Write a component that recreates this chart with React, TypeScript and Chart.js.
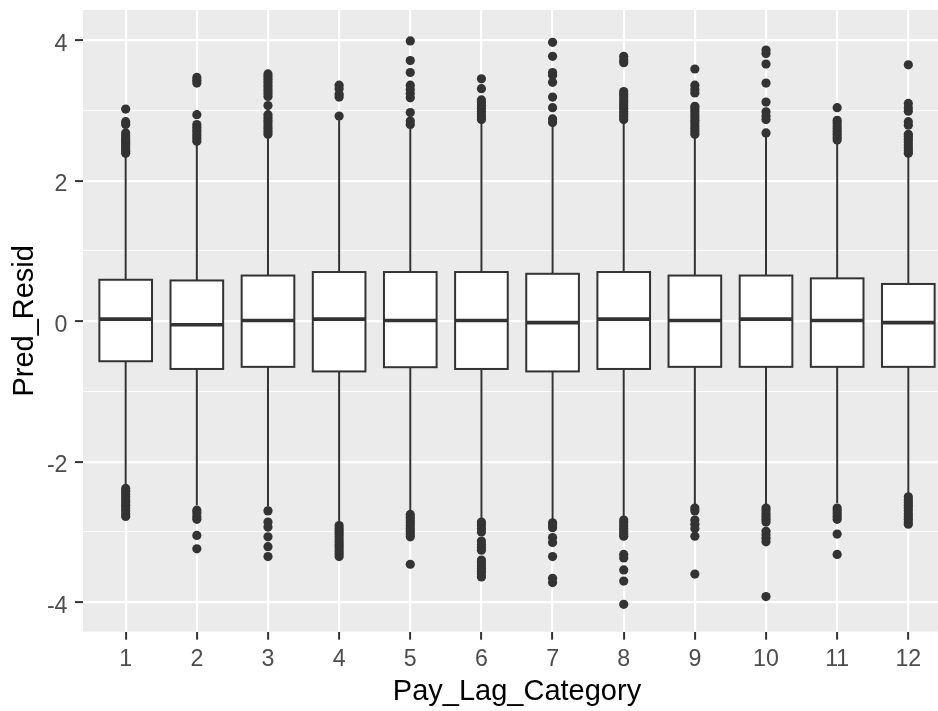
import { useEffect, useRef } from 'react';
import { Chart, registerables } from 'chart.js';

Chart.register(...registerables);

// Pay lag categories on the x axis
const categories = ['1', '2', '3', '4', '5', '6', '7', '8', '9', '10', '11', '12'];

// Box statistics of Pred_Resid per category
const q1 = [-0.57, -0.68, -0.65, -0.715, -0.655, -0.68, -0.715, -0.68, -0.65, -0.65, -0.65, -0.65];
const median = [0.03, -0.05, 0.01, 0.03, 0.01, 0.01, -0.02, 0.03, 0.01, 0.03, 0.01, -0.02];
const q3 = [0.59, 0.58, 0.65, 0.7, 0.7, 0.7, 0.675, 0.7, 0.65, 0.65, 0.61, 0.53];
const whiskerLow = [-2.35, -2.62, -2.64, -2.88, -2.73, -2.8, -2.85, -2.8, -2.64, -2.64, -2.59, -2.46];
const whiskerHigh = [2.36, 2.52, 2.63, 2.86, 2.77, 2.82, 2.81, 2.82, 2.64, 2.64, 2.55, 2.34];

// Points beyond the whiskers
const upperOutliers = [
  [2.39, 2.42, 2.45, 2.48, 2.51, 2.54, 2.57, 2.6, 2.64, 2.68, 2.8, 2.84, 3.02],
  [2.56, 2.6, 2.64, 2.68, 2.72, 2.76, 2.8, 2.94, 3.39, 3.43, 3.47],
  [2.66, 2.7, 2.74, 2.78, 2.82, 2.86, 2.9, 2.94, 3.07, 3.2, 3.24, 3.28, 3.32, 3.36, 3.4, 3.44, 3.48, 3.52],
  [2.92, 3.19, 3.23, 3.31, 3.36],
  [2.8, 2.85, 2.97, 3.18, 3.24, 3.3, 3.36, 3.54, 3.71, 3.99],
  [2.87, 2.91, 2.95, 2.99, 3.03, 3.07, 3.11, 3.15, 3.31, 3.45],
  [2.83, 2.88, 3.04, 3.19, 3.4, 3.5, 3.54, 3.77, 3.97],
  [2.87, 2.91, 2.95, 2.99, 3.03, 3.07, 3.11, 3.15, 3.19, 3.23, 3.27, 3.68, 3.72, 3.77],
  [2.66, 2.7, 2.74, 2.78, 2.82, 2.86, 2.9, 2.94, 2.98, 3.02, 3.06, 3.25, 3.3, 3.36, 3.59],
  [2.68, 2.87, 2.92, 2.98, 3.12, 3.39, 3.66, 3.81, 3.86],
  [2.58, 2.62, 2.66, 2.7, 2.74, 2.78, 2.82, 2.86, 3.04],
  [2.39, 2.43, 2.47, 2.51, 2.55, 2.59, 2.63, 2.66, 2.79, 2.84, 2.99, 3.04, 3.1, 3.65],
];
const lowerOutliers = [
  [-2.38, -2.42, -2.46, -2.5, -2.54, -2.58, -2.62, -2.66, -2.7, -2.74, -2.78],
  [-2.69, -2.73, -2.78, -2.82, -3.05, -3.24],
  [-2.7, -2.86, -2.93, -3.07, -3.21, -3.35],
  [-2.91, -2.95, -2.99, -3.03, -3.07, -3.11, -3.15, -3.19, -3.23, -3.27, -3.31, -3.35],
  [-2.75, -2.79, -2.83, -2.87, -2.91, -2.95, -2.99, -3.03, -3.07, -3.46],
  [-2.86, -2.9, -2.95, -3.0, -3.13, -3.18, -3.22, -3.26, -3.4, -3.44, -3.48, -3.52, -3.56, -3.6, -3.64],
  [-2.87, -2.9, -2.94, -3.08, -3.15, -3.35, -3.66, -3.72],
  [-2.83, -2.87, -2.91, -2.95, -2.99, -3.03, -3.06, -3.32, -3.37, -3.54, -3.7, -4.03],
  [-2.66, -2.7, -2.83, -2.89, -2.95, -3.06, -3.6],
  [-2.66, -2.7, -2.74, -2.78, -2.82, -2.86, -2.99, -3.04, -3.09, -3.14, -3.92],
  [-2.66, -2.7, -2.74, -2.78, -2.82, -3.03, -3.32],
  [-2.5, -2.54, -2.58, -2.62, -2.66, -2.7, -2.74, -2.78, -2.82, -2.86, -2.89],
];

// Axis ticks
const yMajorTicks = [-4, -2, 0, 2, 4];
const yMinorTicks = [-3, -1, 1, 3];

const FONT = '"Liberation Sans", Arial, sans-serif';
const INK = '#333333';
const PANEL = '#EBEBEB';
const BOX_HALF = 0.37;

const outlierPoints = categories.flatMap((_, i) =>
  [...upperOutliers[i], ...lowerOutliers[i]].map((v) => ({ x: i + 1, y: v }))
);

const panelBackground = {
  id: 'panelBackground',
  beforeDraw(chart: any) {
    const { ctx, chartArea } = chart;
    ctx.save();
    ctx.fillStyle = PANEL;
    ctx.fillRect(chartArea.left, chartArea.top, chartArea.right - chartArea.left, chartArea.bottom - chartArea.top);
    ctx.restore();
  },
};

const boxes = {
  id: 'boxes',
  beforeDatasetsDraw(chart: any) {
    const { ctx } = chart;
    const x = chart.scales.x;
    const y = chart.scales.y;
    ctx.save();
    ctx.strokeStyle = INK;
    categories.forEach((_, i) => {
      const cx = x.getPixelForValue(i + 1);
      const left = x.getPixelForValue(i + 1 - BOX_HALF);
      const right = x.getPixelForValue(i + 1 + BOX_HALF);
      const yQ1 = y.getPixelForValue(q1[i]);
      const yQ3 = y.getPixelForValue(q3[i]);
      const yMed = y.getPixelForValue(median[i]);

      // whiskers
      ctx.lineWidth = 2;
      ctx.beginPath();
      ctx.moveTo(cx, y.getPixelForValue(whiskerHigh[i]));
      ctx.lineTo(cx, yQ3);
      ctx.moveTo(cx, yQ1);
      ctx.lineTo(cx, y.getPixelForValue(whiskerLow[i]));
      ctx.stroke();

      // box
      ctx.fillStyle = '#FFFFFF';
      ctx.fillRect(left, yQ3, right - left, yQ1 - yQ3);
      ctx.strokeRect(left, yQ3, right - left, yQ1 - yQ3);

      // median
      ctx.lineWidth = 3.6;
      ctx.beginPath();
      ctx.moveTo(left, yMed);
      ctx.lineTo(right, yMed);
      ctx.stroke();
    });
    ctx.restore();
  },
};

export default function App() {
  const ref = useRef<HTMLCanvasElement>(null);

  useEffect(() => {
    const chart = new Chart(ref.current as HTMLCanvasElement, {
      type: 'scatter',
      data: {
        datasets: [
          {
            data: outlierPoints,
            pointRadius: 4.6,
            pointBackgroundColor: INK,
            pointBorderColor: INK,
            pointBorderWidth: 0,
          },
        ],
      },
      options: {
        animation: false,
        responsive: false,
        devicePixelRatio: 1,
        events: [],
        layout: { padding: { left: 0, top: 10, right: 9, bottom: 0 }, autoPadding: false },
        plugins: { legend: { display: false }, tooltip: { enabled: false } },
        scales: {
          x: {
            type: 'linear',
            position: 'bottom',
            min: 0.4,
            max: 12.6,
            afterBuildTicks: (s: any) => {
              s.ticks = categories.map((_, i) => ({ value: i + 1 }));
            },
            afterFit: (s: any) => {
              s.height = 79.3;
              s.paddingLeft = 0;
              s.paddingRight = 0;
            },
            ticks: {
              callback: (v: any) => categories[Number(v) - 1] ?? '',
              color: '#4D4D4D',
              font: { family: FONT, size: 23.2 },
              padding: 6.4,
              maxRotation: 0,
              autoSkip: false,
            },
            grid: { color: '#FFFFFF', lineWidth: 2.2, tickColor: INK, tickLength: 8, tickWidth: 2 },
            border: { display: false },
            title: {
              display: true,
              text: 'Pay_Lag_Category',
              color: '#000000',
              font: { family: FONT, size: 29 },
              padding: { top: 0, bottom: 2 },
            },
          },
          y: {
            type: 'linear',
            min: -4.42,
            max: 4.43,
            afterBuildTicks: (s: any) => {
              s.ticks = [...yMajorTicks, ...yMinorTicks].sort((a, b) => a - b).map((v) => ({ value: v }));
            },
            afterFit: (s: any) => {
              s.width = 83;
              s.paddingTop = 0;
              s.paddingBottom = 0;
            },
            ticks: {
              callback: (v: any) => (yMajorTicks.includes(Number(v)) ? String(v) : ''),
              color: '#4D4D4D',
              font: { family: FONT, size: 23.2 },
              padding: 7.5,
              labelOffset: 4,
              autoSkip: false,
            },
            grid: {
              color: '#FFFFFF',
              lineWidth: (c: any) => (yMajorTicks.includes(c.tick?.value) ? 2.2 : 1.1),
              tickColor: (c: any) => (yMajorTicks.includes(c.tick?.value) ? INK : 'rgba(0,0,0,0)'),
              tickLength: 8,
              tickWidth: 2,
            },
            border: { display: false },
            title: {
              display: true,
              text: 'Pred_Resid',
              color: '#000000',
              font: { family: FONT, size: 29 },
              padding: { top: 7.6, bottom: 0 },
            },
          },
        },
      },
      plugins: [panelBackground, boxes],
    } as any);
    return () => chart.destroy();
  }, []);

  return (
    <div
      style={{
        position: 'fixed',
        left: 0,
        top: 0,
        width: 938,
        height: 711,
        overflow: 'hidden',
        background: '#FFFFFF',
      }}
    >
      <canvas ref={ref} width={960} height={711} style={{ display: 'block', width: 960, height: 711 }} />
    </div>
  );
}
